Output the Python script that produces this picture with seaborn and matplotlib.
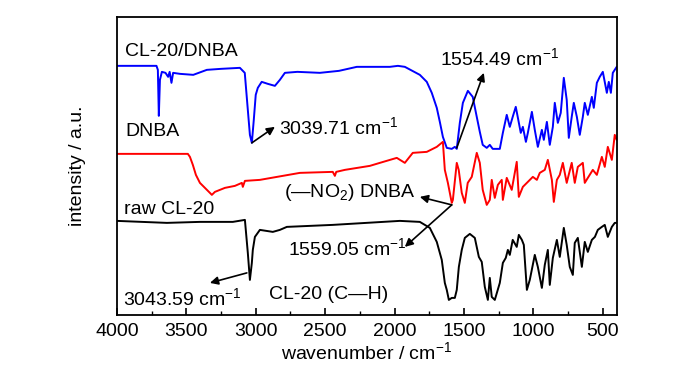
import pandas as pd
import matplotlib
matplotlib.use('Agg')
import matplotlib.pyplot as plt
from matplotlib.ticker import MultipleLocator
import seaborn as sns

# FTIR spectra (wavenumber in cm-1, intensity in arbitrary units, curves offset)
blue_wn = [4000, 3715, 3705, 3698, 3690, 3676, 3650, 3631, 3620, 3607, 3595, 3546, 3450, 3352,
           3250, 3114, 3079, 3057, 3042, 3028, 3014, 3000, 2985, 2957, 2913, 2862, 2826, 2790,
           2700, 2538, 2400, 2272, 2034, 1976, 1926, 1818, 1768, 1732, 1696, 1674, 1652, 1624,
           1588, 1566, 1552, 1530, 1508, 1472, 1437, 1408, 1386, 1365, 1336, 1314, 1293, 1242,
           1220, 1192, 1170, 1149, 1127, 1113, 1091, 1076, 1054, 1040, 1011, 990, 968, 939, 925,
           903, 882, 860, 846, 824, 803, 781, 760, 745, 724, 709, 687, 666, 644, 630, 608, 579,
           565, 543, 522, 500, 471, 457, 442, 428, 400]
blue_int = [249, 249, 245, 199, 235, 243, 242, 238, 243, 232, 242, 241, 240, 245,
            246, 247, 242, 205, 180, 172, 195, 220, 227, 233, 231, 229, 235, 242,
            243, 242, 244, 248, 248, 249, 248, 240, 233, 222, 207, 193, 178, 167,
            166, 168, 166, 192, 212, 224, 218, 198, 183, 170, 167, 170, 166, 166,
            182, 200, 188, 198, 208, 198, 182, 188, 173, 182, 203, 185, 168, 185, 175,
            193, 170, 188, 212, 192, 202, 237, 215, 177, 198, 212, 198, 180, 198, 212, 200, 218,
            207, 232, 238, 243, 222, 233, 222, 242, 248]

red_wn = [4000, 3489, 3474, 3453, 3431, 3402, 3366, 3330, 3316, 3294, 3222, 3150, 3100, 3093,
          3078, 2970, 2682, 2445, 2430, 2420, 2358, 2178, 2106, 1984, 1926, 1869, 1768, 1696,
          1652, 1638, 1616, 1588, 1580, 1552, 1538, 1516, 1494, 1473, 1444, 1408, 1386, 1365,
          1336, 1314, 1300, 1278, 1256, 1228, 1220, 1192, 1156, 1120, 1105, 1076, 1040, 1004,
          975, 954, 918, 896, 867, 853, 831, 810, 788, 760, 724, 702, 680, 644, 630, 608, 572,
          543, 507, 486, 464, 435, 414, 400]
red_int = [161, 161, 158, 150, 140, 132, 127, 122, 120, 123, 127, 129, 132, 128,
           134, 135, 142, 143, 139, 143, 145, 149, 152, 157, 152, 162, 163, 168,
           173, 145, 132, 112, 115, 152, 145, 122, 112, 132, 138, 162, 152, 125,
           110, 115, 135, 117, 130, 135, 115, 137, 125, 153, 118, 128, 133, 138,
           135, 142, 145, 155, 135, 113, 135, 140, 152, 132, 152, 132, 148, 152, 132, 137, 145,
           140, 158, 148, 168, 155, 180, 175]

black_wn = [4000, 3640, 3402, 3165, 3078, 3057, 3042, 3028, 3021, 3006, 2970, 2877, 2826, 2776,
            2445, 1962, 1818, 1746, 1696, 1660, 1638, 1624, 1609, 1588, 1566, 1552, 1537, 1516,
            1494, 1458, 1422, 1393, 1372, 1350, 1328, 1314, 1300, 1278, 1242, 1220, 1199, 1184,
            1170, 1149, 1120, 1105, 1083, 1069, 1047, 1026, 990, 968, 939, 918, 896, 882, 860,
            831, 810, 781, 760, 738, 716, 702, 680, 651, 630, 608, 579, 557, 536, 507, 486, 464,
            435, 414, 400]
black_int = [94, 92, 93, 93, 95, 62, 35, 52, 65, 78, 85, 83, 85, 88,
             90, 94, 93, 87, 73, 55, 32, 25, 15, 17, 17, 25, 48, 65,
             77, 81, 77, 58, 53, 28, 15, 37, 18, 15, 32, 52, 57, 65,
             60, 75, 68, 80, 75, 70, 25, 35, 60, 48, 27, 50, 65, 30, 57,
             75, 58, 87, 70, 48, 40, 72, 77, 48, 73, 63, 75, 78, 85, 88, 90, 78,
             88, 92, 92]

sample_names = ['CL-20/DNBA', 'DNBA', 'raw CL-20']
line_colors = ['#0000ff', '#ff0000', '#000000']

df = pd.concat([
    pd.DataFrame({'wavenumber': blue_wn, 'intensity': blue_int, 'sample': sample_names[0]}),
    pd.DataFrame({'wavenumber': red_wn, 'intensity': red_int, 'sample': sample_names[1]}),
    pd.DataFrame({'wavenumber': black_wn, 'intensity': black_int, 'sample': sample_names[2]}),
], ignore_index=True)

sns.set_style('ticks')
plt.rcParams['font.family'] = ['Liberation Sans', 'DejaVu Sans']
plt.rcParams['mathtext.fontset'] = 'custom'
plt.rcParams['mathtext.rm'] = 'Liberation Sans'
plt.rcParams['mathtext.default'] = 'regular'
plt.rcParams['font.size'] = 14
plt.rcParams['text.color'] = 'black'
plt.rcParams['axes.labelcolor'] = 'black'
plt.rcParams['xtick.color'] = 'black'
plt.rcParams['ytick.color'] = 'black'

fig = plt.figure(figsize=(7, 3.74), dpi=100)
ax = fig.add_axes([0.167, 0.158, 0.714, 0.797])

sns.lineplot(data=df, x='wavenumber', y='intensity', hue='sample', hue_order=sample_names,
             palette=line_colors, estimator=None, sort=False, lw=1.4, legend=False, ax=ax)

ax.set_xlim(4000, 400)
ax.set_ylim(0, 298)
ax.set_yticks([])
ax.xaxis.set_major_locator(MultipleLocator(500))
ax.xaxis.set_minor_locator(MultipleLocator(250))
ax.tick_params(axis='x', which='major', direction='in', length=5, width=1.2, labelsize=14, pad=6)
ax.tick_params(axis='x', which='minor', direction='in', length=3, width=1.0)
for s in ax.spines.values():
    s.set_linewidth(1.3)
    s.set_color('black')

ax.set_xlabel('wavenumber / cm$^{-1}$', fontsize=14, labelpad=1)
ax.set_ylabel('intensity / a.u.', fontsize=14, labelpad=22)

# sample labels
ax.text(3942, 263, 'CL-20/DNBA', fontsize=14, va='center')
ax.text(3942, 183, 'DNBA', fontsize=14, va='center')
ax.text(3950, 105, 'raw CL-20', fontsize=14, va='center')

arrow = dict(arrowstyle='-|>', color='black', lw=1.2, mutation_scale=12, shrinkA=0, shrinkB=0)

ax.annotate('', xy=(2862, 188), xytext=(3028, 172), arrowprops=arrow)
ax.text(2835, 188, '3039.71 cm$^{-1}$', fontsize=14, va='center')

ax.annotate('', xy=(1357, 242), xytext=(1552, 167), arrowprops=arrow)
ax.text(1242, 257, '1554.49 cm$^{-1}$', fontsize=14, va='center', ha='center')

ax.annotate('', xy=(1818, 118), xytext=(1588, 110), arrowprops=arrow)
ax.annotate('', xy=(1926, 68), xytext=(1588, 110), arrowprops=arrow)
ax.text(2800, 122, '(—NO$_2$) DNBA', fontsize=14, va='center')
ax.text(2765, 67, '1559.05 cm$^{-1}$', fontsize=14, va='center')

ax.annotate('', xy=(3330, 32), xytext=(3064, 42), arrowprops=arrow)
ax.text(3958, 17, '3043.59 cm$^{-1}$', fontsize=14, va='center')
ax.text(2905, 20, 'CL-20 (C—H)', fontsize=14, va='center')

fig.savefig('out.png', dpi=100)
